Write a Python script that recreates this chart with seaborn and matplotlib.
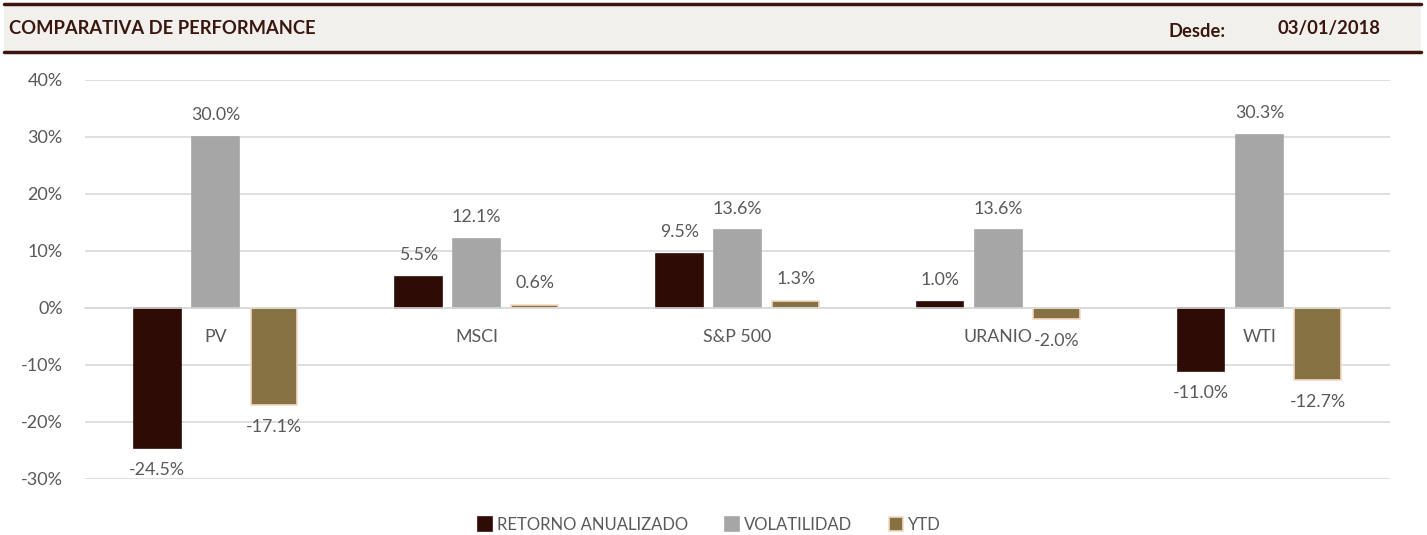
import seaborn as sns
import matplotlib.pyplot as plt
import pandas as pd
from matplotlib.patches import Rectangle
from matplotlib.lines import Line2D

# Data
categorias = ['PV', 'MSCI', 'S&P 500', 'URANIO', 'WTI']
series = ['RETORNO ANUALIZADO', 'VOLATILIDAD', 'YTD']
retorno = [-24.5, 5.5, 9.5, 1.0, -11.0]
volatilidad = [30.0, 12.1, 13.6, 13.6, 30.3]
ytd = [-17.1, 0.6, 1.3, -2.0, -12.7]
y_ticks = [-30, -20, -10, 0, 10, 20, 30, 40]

df = pd.DataFrame({
    'cat': categorias * 3,
    'serie': [s for s in series for _ in categorias],
    'val': retorno + volatilidad + ytd,
})

colors = {'RETORNO ANUALIZADO': '#2F0B05', 'VOLATILIDAD': '#A6A6A6', 'YTD': '#867142'}
edges = {'RETORNO ANUALIZADO': '#2F0B05', 'VOLATILIDAD': '#A6A6A6', 'YTD': '#F6D8C4'}
txt_gray = '#595959'
brown = '#3A160E'

sns.set_style('white')
plt.rcParams['font.family'] = ['Lato', 'DejaVu Sans']

fig = plt.figure(figsize=(14.27, 5.35), dpi=100)
ax = fig.add_axes([0.0596, 0.1047, 0.9144, 0.7458])

sns.barplot(data=df, x='cat', y='val', hue='serie', order=categorias, hue_order=series,
            palette=colors, width=0.67, gap=0.2, legend=False, ax=ax, saturation=1)

for cont, s in zip(ax.containers, series):
    for b in cont:
        b.set_edgecolor(edges[s])
        b.set_linewidth(1.2)
    ax.bar_label(cont, labels=[f'{v:.1f}%' for v in cont.datavalues], padding=10,
                 fontsize=12.8, color=txt_gray)

ax.set_ylim(-30, 40)
ax.set_yticks(y_ticks)
ax.set_yticklabels([f'{t}%' for t in y_ticks], fontsize=13, color=txt_gray)
ax.yaxis.grid(True, color='#D9D9D9', linewidth=1.2)
ax.set_axisbelow(True)
for sp in ['top', 'right', 'left']:
    ax.spines[sp].set_visible(False)
ax.spines['bottom'].set_position(('data', 0))
ax.spines['bottom'].set_color('#D9D9D9')
ax.spines['bottom'].set_linewidth(1.2)
ax.tick_params(axis='x', length=0, pad=15, labelsize=12.8, labelcolor=txt_gray)
ax.tick_params(axis='y', length=0, pad=16)
ax.set_xlabel('')
ax.set_ylabel('')
ax.set_xlim(-0.5, len(categorias) - 0.5)

# Legend
handles = [Rectangle((0, 0), 1, 1, facecolor=colors[s], edgecolor=edges[s], linewidth=1.2) for s in series]
fig.legend(handles, series, loc='center', bbox_to_anchor=(0.497, 0.019), ncol=3, frameon=False,
           fontsize=12, labelcolor=txt_gray, handlelength=0.85, handleheight=0.85,
           handletextpad=0.3, columnspacing=2.2)

# Header band
fig.patches.append(Rectangle((0.003, 0.904), 0.993, 0.088, transform=fig.transFigure,
                             facecolor='#F1F0EC', edgecolor='none', zorder=0))
fig.lines.append(Line2D([0.003, 0.996], [0.993, 0.993], transform=fig.transFigure, color=brown, linewidth=2.5))
fig.lines.append(Line2D([0.003, 0.996], [0.903, 0.903], transform=fig.transFigure, color=brown, linewidth=2.5))
fig.text(0.006, 0.946, 'COMPARATIVA DE PERFORMANCE', fontsize=13.2, fontweight='bold', color=brown, va='center')
fig.text(0.819, 0.942, 'Desde:', fontsize=13.2, fontweight='bold', color=brown, va='center')
fig.text(0.967, 0.946, '03/01/2018', fontsize=13.2, fontweight='bold', color=brown, va='center', ha='right')

plt.savefig('out.png', dpi=100)
